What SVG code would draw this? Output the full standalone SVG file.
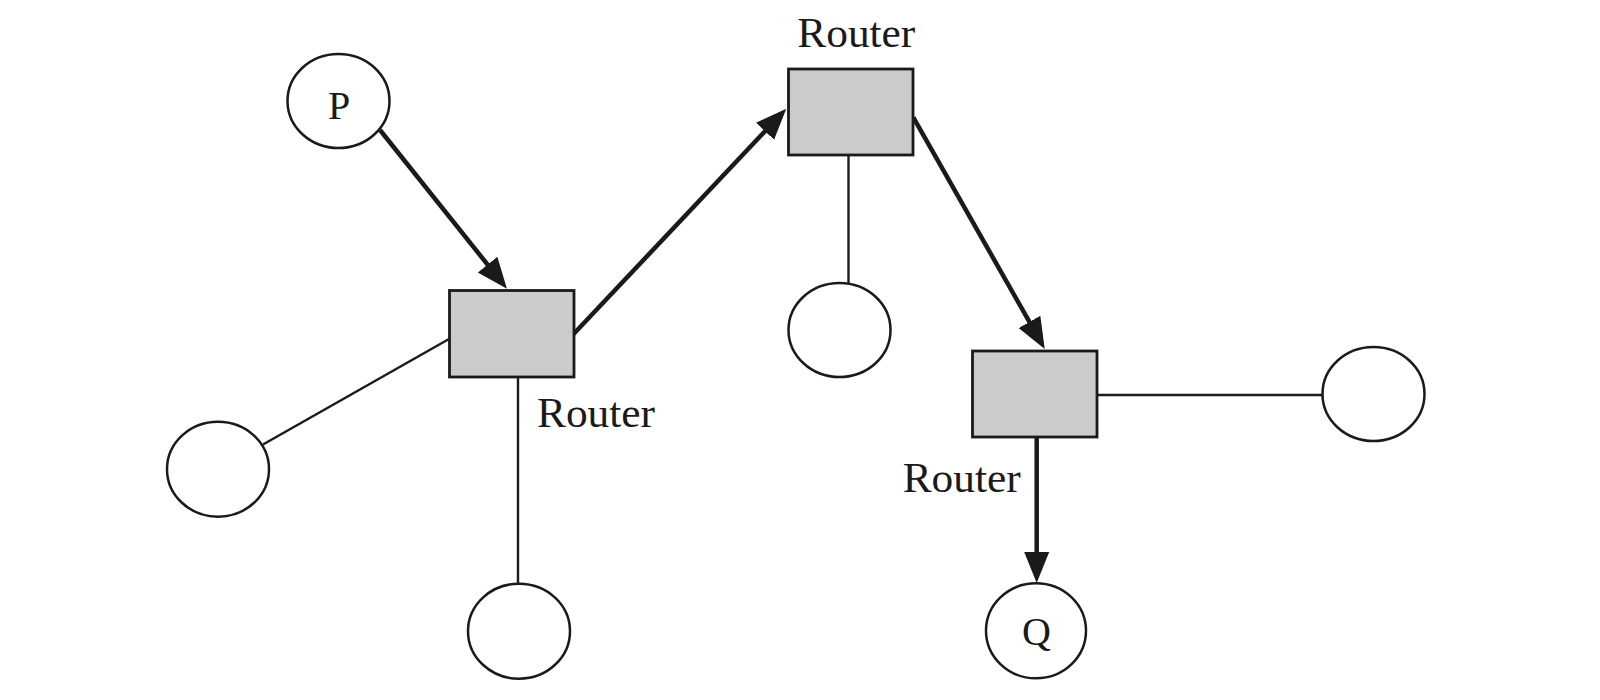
<svg xmlns="http://www.w3.org/2000/svg" width="1600" height="700" viewBox="0 0 1600 700">
<style>
.node{fill:#fff;stroke:#1a1a1a;stroke-width:2.5}
.router{fill:#cbcbcb;stroke:#1a1a1a;stroke-width:2.8}
.thin{stroke:#1a1a1a;stroke-width:2.4;fill:none}
.thick{stroke:#1a1a1a;stroke-width:4.5;fill:none;marker-end:url(#ah)}
text{font-family:"Liberation Serif","Times New Roman",serif;fill:#1a1a1a}
.lbl{font-size:42px}
.nl{font-size:40px;text-anchor:middle}
</style>
<defs>
<marker id="ah" markerUnits="userSpaceOnUse" markerWidth="34" markerHeight="28" refX="21" refY="12.5" orient="auto">
<path d="M0,0 L31,12.5 L0,25 z" fill="#1a1a1a"/>
</marker>
</defs>
<rect width="1600" height="700" fill="#fff"/>
<g id="connectors">
<line class="thin" x1="449" y1="339" x2="263" y2="444.5"/>
<line class="thin" x1="518" y1="377" x2="518" y2="584"/>
<line class="thin" x1="848.5" y1="155" x2="848.5" y2="283.5"/>
<line class="thin" x1="1097" y1="395" x2="1323" y2="395"/>
<line class="thick" x1="380" y1="130" x2="500.7" y2="281"/>
<line class="thick" x1="571.7" y1="336" x2="779.4" y2="116"/>
<line class="thick" x1="913.3" y1="117.3" x2="1039.8" y2="340.2"/>
<line class="thick" x1="1036.7" y1="437" x2="1036.7" y2="573"/>
</g>
<g id="nodeP"><ellipse class="node" cx="338.5" cy="101" rx="51" ry="47"/><text class="nl" x="339" y="119">P</text></g>
<g id="router1"><rect class="router" x="449.5" y="290.5" width="124.5" height="86.5"/><text class="lbl" x="537" y="426.7" textLength="118" lengthAdjust="spacingAndGlyphs">Router</text></g>
<g id="router2"><rect class="router" x="788.5" y="69" width="124.5" height="86"/><text class="lbl" x="797.3" y="46.7" textLength="118" lengthAdjust="spacingAndGlyphs">Router</text></g>
<g id="router3"><rect class="router" x="972.5" y="351" width="124.5" height="86"/><text class="lbl" x="902.7" y="491.7" textLength="118" lengthAdjust="spacingAndGlyphs">Router</text></g>
<g id="hostLeft"><ellipse class="node" cx="218" cy="469.2" rx="51" ry="47.5"/></g>
<g id="hostBottom"><ellipse class="node" cx="519" cy="631.2" rx="51" ry="47.5"/></g>
<g id="hostMiddle"><ellipse class="node" cx="839.5" cy="330" rx="51" ry="47"/></g>
<g id="hostRight"><ellipse class="node" cx="1373.5" cy="394" rx="51" ry="47"/></g>
<g id="nodeQ"><ellipse class="node" cx="1036" cy="630.8" rx="50" ry="47.5"/><text class="nl" x="1036.5" y="645">Q</text></g>
</svg>
